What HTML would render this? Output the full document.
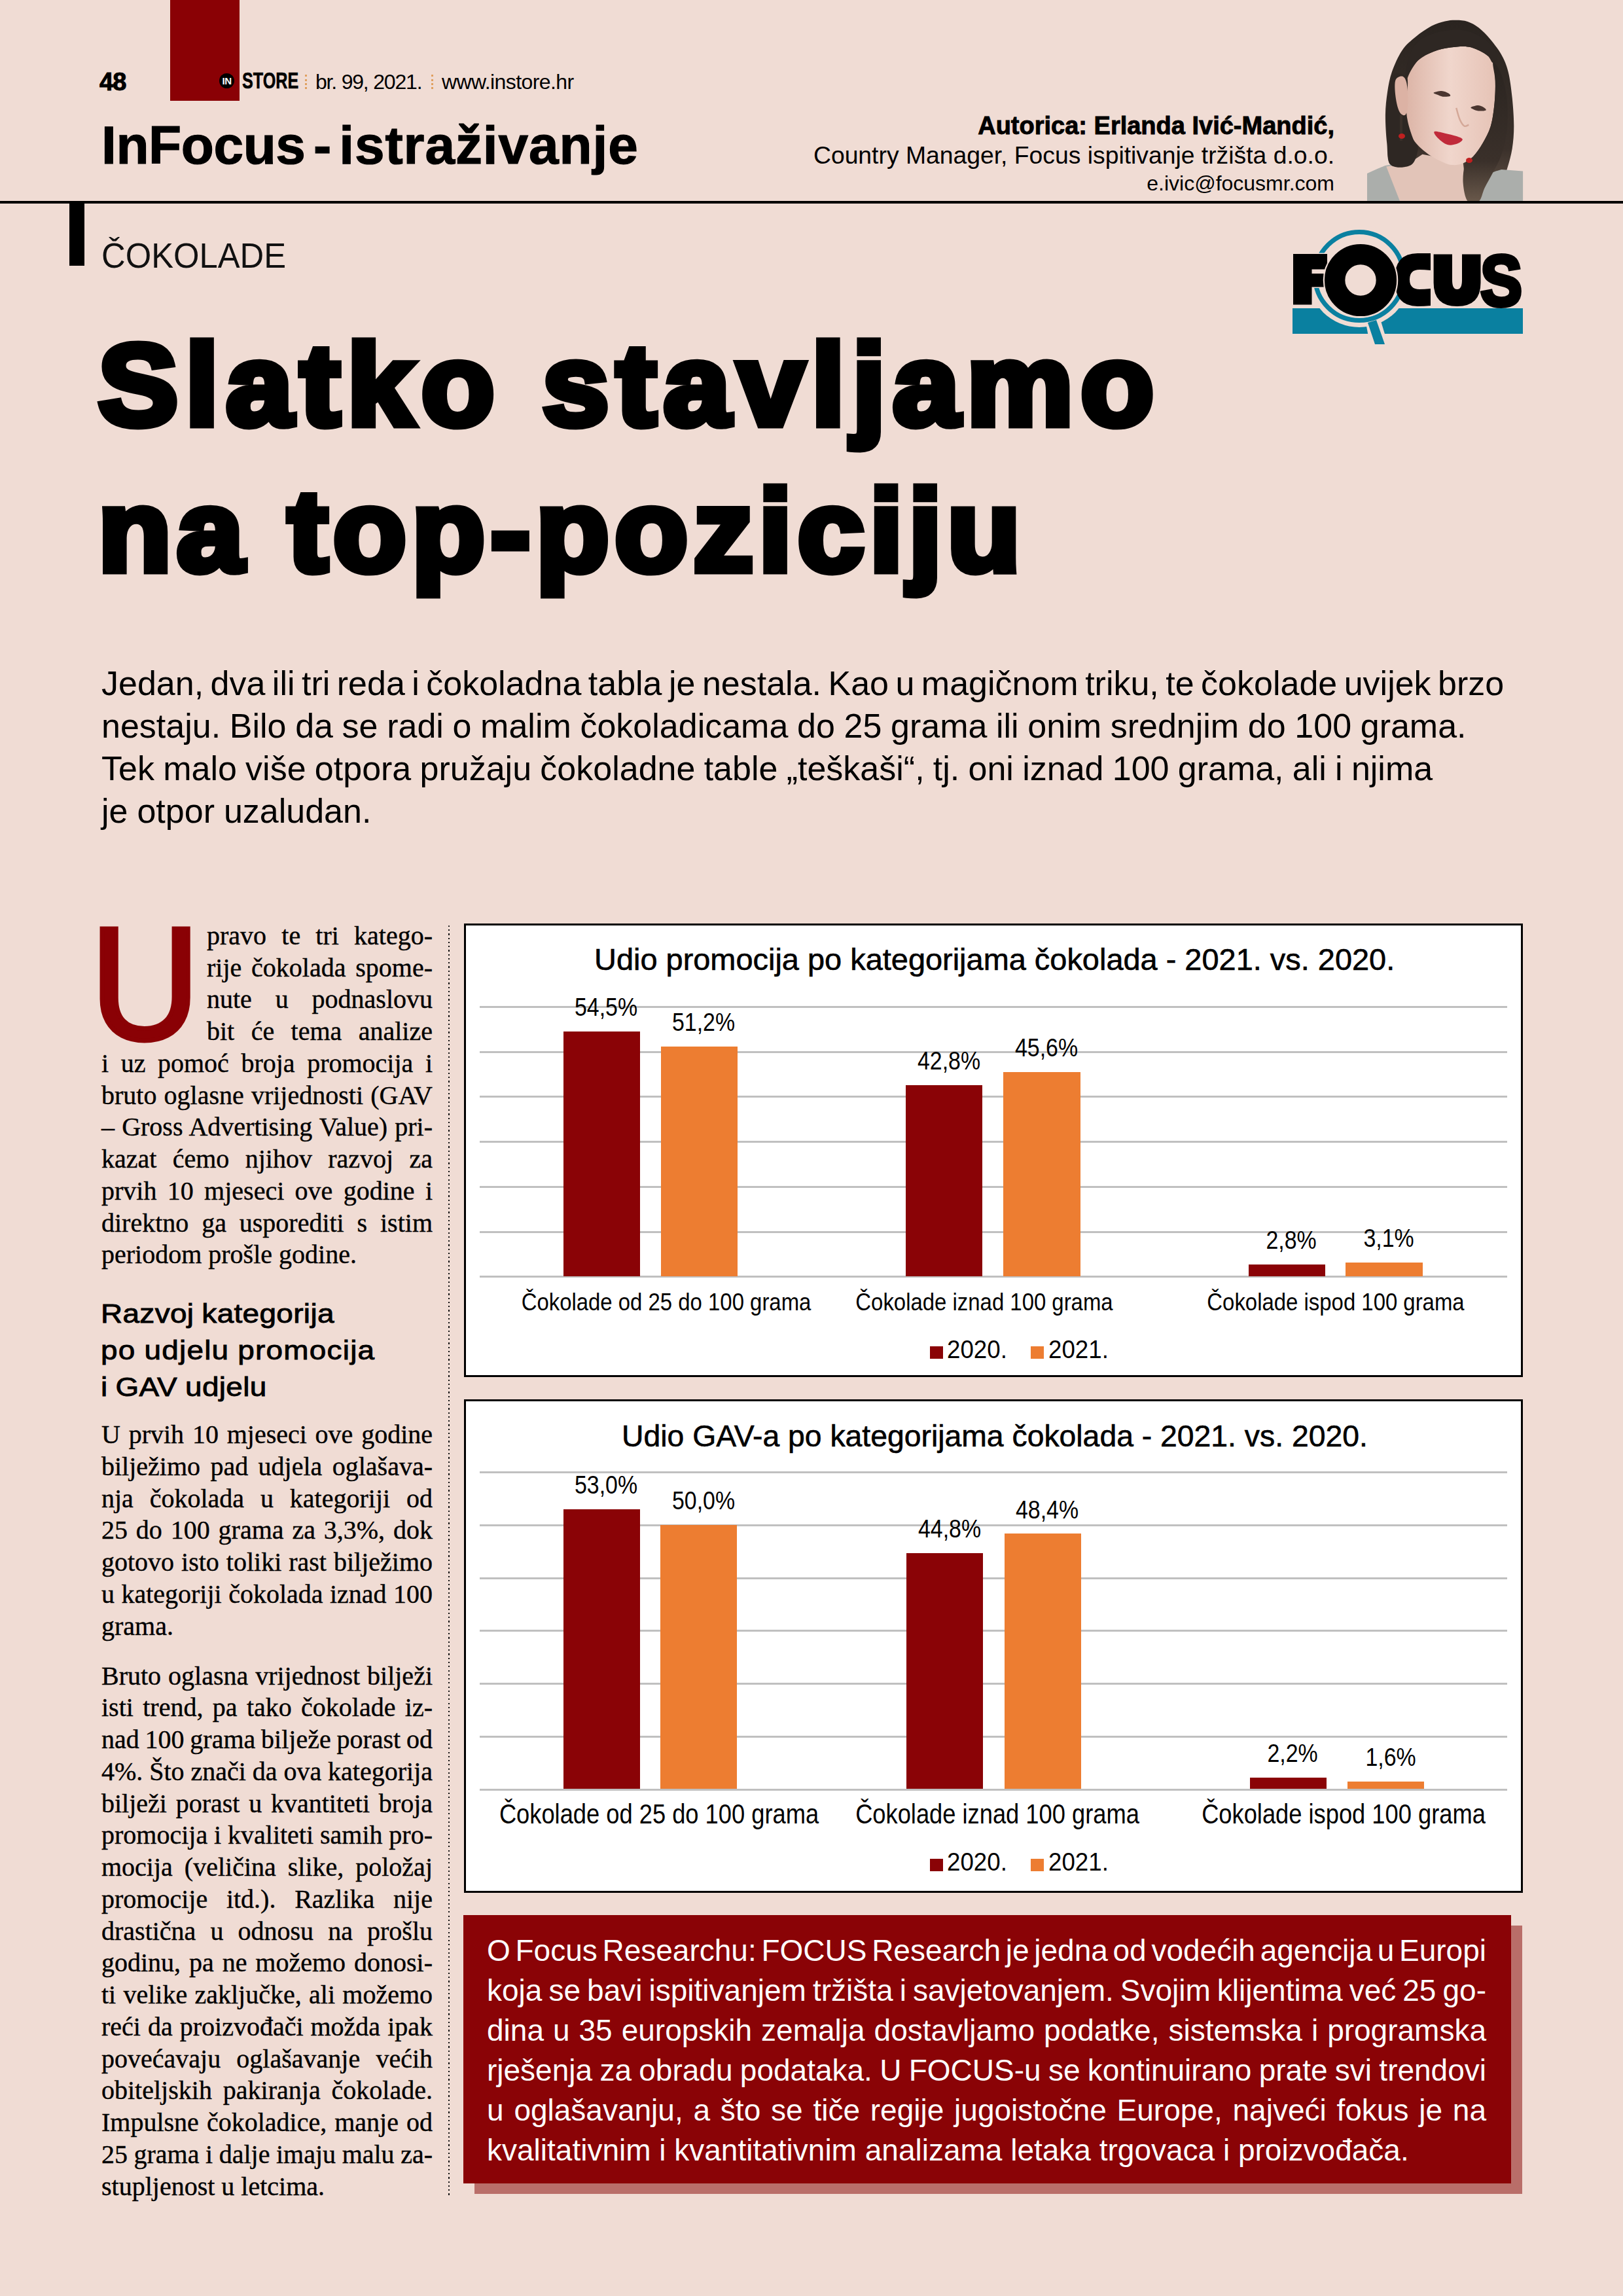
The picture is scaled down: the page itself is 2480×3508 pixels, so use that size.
<!DOCTYPE html>
<html lang="hr">
<head>
<meta charset="utf-8">
<title>InFocus - istraživanje</title>
<style>
html,body{margin:0;padding:0;}
body{width:2480px;height:3508px;position:relative;overflow:hidden;background:#f0dcd4;font-family:"Liberation Sans",sans-serif;color:#000;}
.a{position:absolute;white-space:nowrap;line-height:1;}
.sx{transform-origin:0 0;}
/* header */
#redtab{left:260px;top:0;width:106px;height:154px;background:#8a0105;}
#pgno{left:152px;top:106px;font-size:38px;font-weight:bold;letter-spacing:-1px;-webkit-text-stroke:1px #000;}
#incirc{left:335px;top:112px;width:23px;height:23px;border-radius:50%;background:#000;color:#fff;font-size:15px;font-weight:bold;text-align:center;line-height:24px;letter-spacing:-0.5px;}
#store{left:370px;top:105px;font-size:35px;font-weight:bold;transform:scaleX(0.72);-webkit-text-stroke:0.6px #000;}
.vdots{width:0;border-left:3px dotted #e0a060;}
#br{left:482px;top:109px;font-size:32px;letter-spacing:-1.2px;}
#www{left:675px;top:109px;font-size:32px;letter-spacing:-0.6px;}
#infocus{left:155px;top:181px;font-size:82px;font-weight:bold;letter-spacing:-0.4px;word-spacing:-10px;-webkit-text-stroke:1.2px #000;}
#rule{left:0;top:307px;width:2480px;height:4px;background:#000;}
#vbar{left:106px;top:307px;width:23px;height:99px;background:#000;}
#cok{left:155px;top:363px;font-size:54px;transform:scaleX(0.94);color:#111;}
#aut1{right:441px;top:173px;font-size:38px;font-weight:bold;-webkit-text-stroke:0.9px #000;}
#aut2{right:441px;top:219px;font-size:37.3px;}
#aut3{right:441px;top:264px;font-size:32px;}
/* title */
.title{left:150px;font-size:176px;font-weight:bold;-webkit-text-stroke:11px #000;}
#t1{top:500px;letter-spacing:10.8px;transform:scaleX(1.04);}
#t2{top:723px;letter-spacing:8.1px;transform:scaleX(1.04);}
/* intro */
.intro{left:155px;top:1012px;font-size:52px;line-height:65px;word-spacing:-4px;}
/* left column */
.col{left:155px;width:506px;font-family:"Liberation Serif",serif;font-size:40px;line-height:48.75px;white-space:nowrap;-webkit-text-stroke:0.4px #000;}
.col div{text-align:justify;text-align-last:justify;word-spacing:-3px;}
.col div.l{text-align-last:left;word-spacing:0;}
#dropU{left:137.6px;top:1381px;font-size:245px;color:#8a0105;-webkit-text-stroke:7px #8a0105;font-family:"Liberation Sans",sans-serif;transform:scaleX(0.945);}
#h2{left:154px;top:1980px;font-size:41px;line-height:55.8px;letter-spacing:0.3px;word-spacing:-1px;-webkit-text-stroke:0.9px #000;transform:scaleX(1.12);}
#dotv{left:684.8px;top:1414px;width:2.4px;height:1942px;background:repeating-linear-gradient(to bottom,#111 0,#111 2.2px,transparent 2.2px,transparent 6.25px);border-radius:1px;}
/* charts */
.box{background:#fff;border:3px solid #000;box-sizing:border-box;}
.grid{height:3px;background:#c0c0c0;left:733px;width:1570px;}
.bar{background:#8a0306;}
.bar.o{background:#ed7d31;}
.ctitle{font-size:46px;-webkit-text-stroke:0.6px #000;}
.val{font-size:38.5px;transform:scaleX(0.88);transform-origin:50% 0;text-align:center;width:200px;}
.cat{font-size:37.4px;transform:scaleX(0.88);transform-origin:50% 0;text-align:center;width:700px;}
.cat2{font-size:42px;transform:scaleX(0.864);transform-origin:50% 0;text-align:center;width:700px;}
.leg{font-size:39.7px;transform:scaleX(0.925);}
/* info box */
#shadow{left:725px;top:2942px;width:1601px;height:410px;background:#b96e69;}
#info{left:708px;top:2925.5px;width:1601px;height:410.5px;background:#8a0306;}
.itext{left:744px;top:2950px;width:1527px;font-size:46px;line-height:61px;color:#ffffff;}
.itext div{text-align:justify;text-align-last:justify;}
.itext div.l{text-align-last:left;}
</style>
</head>
<body>
<div class="a" id="redtab"></div>
<div class="a" id="pgno">48</div>
<div class="a" id="incirc">IN</div>
<div class="a sx" id="store">STORE</div>
<div class="a vdots" style="left:466px;top:114px;height:22px;"></div>
<div class="a" id="br">br. 99, 2021.</div>
<div class="a vdots" style="left:659px;top:114px;height:22px;"></div>
<div class="a" id="www">www.instore.hr</div>
<div class="a" id="infocus">InFocus - <span style="letter-spacing:0.9px">istraživanje</span></div>
<div class="a" id="aut1">Autorica: Erlanda Ivić-Mandić,</div>
<div class="a" id="aut2">Country Manager, Focus ispitivanje tržišta d.o.o.</div>
<div class="a" id="aut3">e.ivic@focusmr.com</div>
<svg class="a" style="left:2080px;top:20px" width="260" height="290" viewBox="2080 20 260 290">
  <defs><linearGradient id="hg" x1="0" y1="0" x2="0" y2="1"><stop offset="0" stop-color="#2a2420"/><stop offset="0.7" stop-color="#3a302a"/><stop offset="1" stop-color="#6b5a4c"/></linearGradient>
  <linearGradient id="fg" x1="0" y1="0" x2="1" y2="0"><stop offset="0" stop-color="#dcb4a6"/><stop offset="0.5" stop-color="#f0d6cc"/><stop offset="1" stop-color="#e6c3b6"/></linearGradient></defs>
  <path d="M2187.3 39.8 C2194.8 35.9 2201.7 33.9 2208.0 32.4 C2214.4 30.9 2219.5 30.6 2225.3 30.7 C2231.0 30.8 2236.8 31.0 2242.5 32.9 C2248.3 34.9 2254.0 38.0 2259.8 42.4 C2265.5 46.9 2271.3 52.8 2277.0 59.7 C2282.8 66.6 2289.7 75.5 2294.3 83.8 C2298.9 92.2 2301.9 98.8 2304.6 109.7 C2307.4 120.6 2309.2 135.6 2310.7 149.4 C2312.1 163.2 2313.3 179.6 2313.3 192.5 C2313.3 205.5 2312.4 216.1 2310.7 227.0 C2309.0 238.0 2305.7 248.6 2302.9 258.1 C2300.2 267.6 2297.2 275.8 2294.3 284.0 C2291.4 292.2 2294.3 303.4 2285.7 307.3 C2277.0 311.1 2252.6 313.4 2242.5 307.3 C2232.5 301.1 2239.7 279.5 2225.3 270.2 C2210.9 260.8 2172.9 254.2 2156.3 251.2 C2139.6 248.2 2131.4 257.5 2125.2 252.1 C2119.0 246.6 2120.6 231.2 2119.2 218.4 C2117.8 205.6 2116.8 188.2 2116.9 175.3 C2117.1 162.3 2118.4 151.7 2120.0 140.8 C2121.7 129.8 2123.2 120.4 2126.9 109.7 C2130.7 99.1 2136.4 85.9 2142.5 76.9 C2148.5 68.0 2155.7 62.4 2163.2 56.2 C2170.6 50.0 2179.8 43.8 2187.3 39.8 Z" fill="url(#hg)"/>
  <path d="M2089.0 265.0 L2104.5 258.1 L2116.6 252.9 L2126.9 251.2 L2152.8 252.1 L2225.3 265.0 L2242.5 278.8 L2285.7 261.5 L2294.3 259.0 L2327.1 261.5 L2327.1 307.3 L2089.0 307.3 Z" fill="#abaeab"/>
  <path d="M2118.3 254.6 L2152.8 249.5 L2173.5 235.7 L2235.6 247.7 L2242.5 307.3 L2139.0 307.3 Z" fill="#e2c4b8"/>
  <path d="M2149.4 123.5 C2152.5 112.6 2159.7 99.9 2166.6 92.5 C2173.5 85.0 2182.4 82.0 2190.8 78.7 C2199.1 75.4 2208.0 73.8 2216.7 72.6 C2225.3 71.4 2235.3 70.7 2242.5 71.4 C2249.7 72.1 2254.6 74.6 2259.8 76.9 C2265.0 79.3 2270.0 82.4 2273.6 85.6 C2277.2 88.7 2279.5 89.6 2281.4 95.9 C2283.2 102.2 2284.4 113.2 2284.8 123.5 C2285.2 133.9 2284.7 146.5 2283.6 158.0 C2282.4 169.5 2280.9 182.5 2277.9 192.5 C2274.9 202.6 2270.3 210.6 2265.8 218.4 C2261.4 226.2 2256.2 233.9 2251.2 239.1 C2246.1 244.3 2240.8 247.3 2235.6 249.5 C2230.5 251.6 2225.3 252.3 2220.1 252.1 C2214.9 251.8 2211.2 250.8 2204.6 247.7 C2198.0 244.7 2187.9 239.7 2180.4 233.9 C2172.9 228.2 2164.7 221.3 2159.7 213.2 C2154.7 205.2 2152.2 194.8 2150.2 185.6 C2148.2 176.4 2147.8 168.4 2147.6 158.0 C2147.5 147.7 2146.2 134.4 2149.4 123.5 Z" fill="url(#fg)"/>
  <path d="M2147.6 116.6 C2151.1 118.9 2150.9 120.1 2151.1 127.0 C2151.2 133.9 2148.5 148.2 2148.5 158.0 C2148.5 167.8 2149.2 176.4 2151.1 185.6 C2153.0 194.8 2157.1 206.3 2159.7 213.2 C2162.3 220.1 2167.2 220.6 2166.6 227.0 C2166.0 233.5 2163.2 247.9 2156.3 252.1 C2149.4 256.2 2131.2 257.7 2125.2 252.1 C2119.2 246.4 2121.2 231.2 2120.0 218.4 C2118.9 205.6 2118.0 188.2 2118.3 175.3 C2118.6 162.3 2119.7 151.1 2121.8 140.8 C2123.8 130.4 2126.1 117.2 2130.4 113.2 C2134.7 109.1 2144.2 114.3 2147.6 116.6 Z" fill="#2e2723"/>
  <path d="M2132.1 123.5 C2133.7 117.8 2139.6 116.0 2142.5 116.6 C2145.3 117.2 2147.9 120.1 2149.4 127.0 C2150.8 133.9 2151.4 150.0 2151.1 158.0 C2150.8 166.1 2149.7 173.0 2147.6 175.3 C2145.6 177.6 2141.5 175.9 2139.0 171.8 C2136.6 167.8 2134.1 159.2 2133.0 151.1 C2131.8 143.1 2130.5 129.3 2132.1 123.5 Z" fill="#dcb2a4"/>
  <path d="M2281.4 95.9 C2282.6 93.6 2289.3 102.2 2292.6 109.7 C2295.9 117.2 2299.3 129.8 2301.2 140.8 C2303.1 151.7 2303.8 163.8 2303.8 175.3 C2303.8 186.8 2303.1 198.9 2301.2 209.8 C2299.3 220.7 2296.0 231.6 2292.6 240.8 C2289.1 250.0 2284.5 257.2 2280.5 265.0 C2276.5 272.8 2271.9 280.4 2268.4 287.4 C2265.0 294.5 2264.1 304.0 2259.8 307.3 C2255.5 310.6 2246.6 312.0 2242.5 307.3 C2238.5 302.5 2236.2 288.4 2235.6 278.8 C2235.1 269.2 2236.5 256.1 2239.1 249.5 C2241.7 242.9 2246.7 244.3 2251.2 239.1 C2255.6 233.9 2261.4 226.2 2265.8 218.4 C2270.3 210.6 2274.9 202.6 2277.9 192.5 C2280.9 182.5 2282.4 169.5 2283.6 158.0 C2284.7 146.5 2285.2 133.9 2284.8 123.5 C2284.4 113.2 2280.1 98.2 2281.4 95.9 Z" fill="url(#hg)"/>
  <path d="M2147.6 116.6 C2148.8 120.1 2159.4 98.8 2166.6 92.5 C2173.8 86.1 2182.4 82.0 2190.8 78.7 C2199.1 75.4 2208.0 73.8 2216.7 72.6 C2225.3 71.4 2235.3 70.7 2242.5 71.4 C2249.7 72.1 2254.6 74.6 2259.8 76.9 C2265.0 79.3 2270.0 82.4 2273.6 85.6 C2277.2 88.7 2279.1 96.5 2281.4 95.9 C2283.7 95.3 2289.5 88.2 2287.4 82.1 C2285.2 76.1 2277.3 65.7 2268.4 59.7 C2259.5 53.6 2246.8 47.3 2233.9 45.9 C2221.0 44.4 2203.1 46.7 2190.8 51.1 C2178.4 55.4 2166.9 60.8 2159.7 71.8 C2152.5 82.7 2146.5 113.2 2147.6 116.6 Z" fill="#2e2723"/>
  <path d="M2191.6 201.2 C2193.4 199.9 2202.4 202.6 2208.0 203.7 C2213.6 204.9 2220.8 206.5 2225.3 208.1 C2229.7 209.6 2234.8 211.2 2234.8 213.2 C2234.8 215.2 2229.2 218.8 2225.3 220.1 C2221.4 221.4 2216.1 222.4 2211.5 221.0 C2206.9 219.6 2201.0 214.8 2197.7 211.5 C2194.4 208.2 2189.9 202.5 2191.6 201.2 Z" fill="#c02a3a"/>
  <path d="M2190.8 141.6 C2191.9 140.7 2199.1 138.9 2202.9 139.0 C2206.6 139.2 2211.0 141.2 2213.2 142.5 C2215.4 143.8 2217.2 145.9 2215.8 146.8 C2214.4 147.7 2207.9 148.0 2204.6 147.7 C2201.3 147.3 2198.2 145.6 2195.9 144.6 C2193.6 143.6 2189.6 142.6 2190.8 141.6 Z" fill="#4a3630"/>
  <path d="M2247.7 164.1 C2249.0 163.1 2255.5 161.0 2258.9 161.1 C2262.4 161.3 2266.5 163.7 2268.4 164.9 C2270.3 166.2 2271.7 168.0 2270.1 168.7 C2268.6 169.5 2262.1 169.7 2258.9 169.4 C2255.8 169.1 2253.0 167.9 2251.2 167.0 C2249.3 166.1 2246.4 165.0 2247.7 164.1 Z" fill="#4a3630"/>
  <path d="M2225.3 164.9 C2226.1 167.8 2228.4 177.6 2230.5 182.2 C2232.5 186.8 2235.1 191.1 2237.4 192.5 C2239.7 194.0 2243.1 191.1 2244.3 190.8 " fill="none" stroke="#d4a898" stroke-width="2.5"/>
  <rect x="2139" y="175" width="4" height="40" fill="#3a302a"/>
  <ellipse cx="2142" cy="208" rx="5" ry="4" fill="#c02020"/>
  <ellipse cx="2245" cy="245" rx="5" ry="4" fill="#c02020"/>
</svg>
<div class="a" id="rule"></div>
<div class="a" id="vbar"></div>
<div class="a sx" id="cok">ČOKOLADE</div>
<svg class="a" style="left:1960px;top:330px" width="380" height="210" viewBox="1960 330 380 210">
  <rect x="1975" y="471" width="352" height="39" fill="#0a80a0"/>
  <circle cx="2077" cy="422" r="78" fill="#f0dcd4"/>
  <polygon points="2086,488 2108,484 2122,530 2094,530" fill="#f0dcd4"/>
  <circle cx="2077" cy="422" r="67.5" fill="none" stroke="#0a80a0" stroke-width="7"/>
  <polygon points="2090,493 2103,489 2116,526 2101,526" fill="#0a80a0"/>
  <rect x="2003" y="410" width="26" height="9" fill="#f0dcd4"/>
  <path d="M1976 388 L2028 388 L2028 411.5 L2004.5 411.5 L2004.5 418 L2023 418 L2023 438.5 L2004.5 438.5 L2004.5 465.5 L1976 465.5 Z" fill="#000" stroke="#f0dcd4" stroke-width="3" paint-order="stroke"/>
  <path d="M2186 387 V413 Q2176 412 2169 412 Q2154 412 2154 427 Q2154 442 2169 442 Q2176 442 2186 441 V467 Q2176 468 2166 468 Q2131 468 2131 427 Q2131 387 2166 387 Q2176 387 2186 387 Z" fill="#000"/>
  <path d="M2190.6 388.5 H2219 V428 Q2219 442 2226.5 442 Q2234 442 2234 428 V388.5 H2262.5 V432 Q2262.5 468 2226.5 468 Q2190.6 468 2190.6 432 Z" fill="#000"/>
  <text x="2262" y="467" font-family="Liberation Sans" font-weight="bold" font-size="110" stroke="#000" stroke-width="6" textLength="64" lengthAdjust="spacingAndGlyphs">S</text>
  <circle cx="2079" cy="428" r="40" fill="none" stroke="#f0dcd4" stroke-width="34.5"/>
  <circle cx="2079" cy="428" r="39.4" fill="none" stroke="#000" stroke-width="31.4"/>
</svg>

<div class="a title sx" id="t1">Slatko stavljamo</div>
<div class="a title sx" id="t2">na top-poziciju</div>
<div class="a intro"><div>Jedan, dva ili tri reda i čokoladna tabla je nestala. Kao u magičnom triku, te čokolade uvijek brzo</div><div style="word-spacing:-0.8px">nestaju. Bilo da se radi o malim čokoladicama do 25 grama ili onim srednjim do 100 grama.</div><div style="word-spacing:-1.2px">Tek malo više otpora pružaju čokoladne table „teškaši“, tj. oni iznad 100 grama, ali i njima</div><div style="word-spacing:-0.5px">je otpor uzaludan.</div></div>

<div class="a sx" id="dropU">U</div>
<div class="a col" style="top:1405.9px"><div style="margin-left:161px">pravo te tri katego-</div><div style="margin-left:161px">rije čokolada spome-</div><div style="margin-left:161px">nute u podnaslovu</div><div style="margin-left:161px">bit će tema analize</div><div>i uz pomoć broja promocija i</div><div>bruto oglasne vrijednosti (GAV</div><div>– Gross Advertising Value) pri-</div><div>kazat ćemo njihov razvoj za</div><div>prvih 10 mjeseci ove godine i</div><div>direktno ga usporediti s istim</div><div class="l">periodom prošle godine.</div></div>
<div class="a sx" id="h2">Razvoj kategorija<br><span style="letter-spacing:1.1px">po udjelu promocija</span><br>i GAV udjelu</div>
<div class="a col" style="top:2168.1px"><div>U prvih 10 mjeseci ove godine</div><div>bilježimo pad udjela oglašava-</div><div>nja čokolada u kategoriji od</div><div>25 do 100 grama za 3,3%, dok</div><div>gotovo isto toliki rast bilježimo</div><div>u kategoriji čokolada iznad 100</div><div class="l">grama.</div></div>
<div class="a col" style="top:2536.5px"><div>Bruto oglasna vrijednost bilježi</div><div>isti trend, pa tako čokolade iz-</div><div>nad 100 grama bilježe porast od</div><div>4%. Što znači da ova kategorija</div><div>bilježi porast u kvantiteti broja</div><div>promocija i kvaliteti samih pro-</div><div>mocija (veličina slike, položaj</div><div>promocije itd.). Razlika nije</div><div>drastična u odnosu na prošlu</div><div>godinu, pa ne možemo donosi-</div><div>ti velike zaključke, ali možemo</div><div>reći da proizvođači možda ipak</div><div>povećavaju oglašavanje većih</div><div>obiteljskih pakiranja čokolade.</div><div>Impulsne čokoladice, manje od</div><div>25 grama i dalje imaju malu za-</div><div class="l">stupljenost u letcima.</div></div>
<div class="a" id="dotv"></div>

<div class="a box" style="left:709px;top:1411px;width:1618px;height:692.7px"></div>
<div class="a ctitle sx" style="transform:scaleX(1.02);left:908.0px;top:1443.1px">Udio promocija po kategorijama čokolada - 2021. vs. 2020.</div>
<div class="a grid" style="top:1536.9px"></div>
<div class="a grid" style="top:1605.7px"></div>
<div class="a grid" style="top:1674.4px"></div>
<div class="a grid" style="top:1743.1px"></div>
<div class="a grid" style="top:1811.8px"></div>
<div class="a grid" style="top:1880.5px"></div>
<div class="a grid" style="top:1949.2px"></div>
<div class="a bar " style="left:860.5px;top:1575.8px;width:117.5px;height:373.9px"></div>
<div class="a val" style="left:826.2px;top:1520.2px">54,5%</div>
<div class="a bar o" style="left:1009.5px;top:1599.0px;width:117.5px;height:350.7px"></div>
<div class="a val" style="left:975.2px;top:1543.4px">51,2%</div>
<div class="a bar " style="left:1384.0px;top:1657.7px;width:117.0px;height:292.0px"></div>
<div class="a val" style="left:1349.5px;top:1602.1px">42,8%</div>
<div class="a bar o" style="left:1532.7px;top:1637.5px;width:118.3px;height:312.2px"></div>
<div class="a val" style="left:1498.8px;top:1581.9px">45,6%</div>
<div class="a bar " style="left:1907.6px;top:1931.5px;width:117.2px;height:18.2px"></div>
<div class="a val" style="left:1873.2px;top:1875.9px">2,8%</div>
<div class="a bar o" style="left:2056.0px;top:1928.5px;width:118.0px;height:21.2px"></div>
<div class="a val" style="left:2022.0px;top:1872.9px">3,1%</div>
<div class="a cat" style="left:667.8px;top:1971.0px">Čokolade od 25 do 100 grama</div>
<div class="a cat" style="left:1154.0px;top:1971.0px">Čokolade iznad 100 grama</div>
<div class="a cat" style="left:1690.5px;top:1971.0px">Čokolade ispod 100 grama</div>
<div class="a bar" style="left:1421px;top:2056.8px;width:20px;height:19.5px"></div>
<div class="a leg sx" style="left:1447px;top:2042.4px">2020.</div>
<div class="a bar o" style="left:1575px;top:2056.8px;width:20px;height:19.5px"></div>
<div class="a leg sx" style="left:1602px;top:2042.4px">2021.</div>

<div class="a box" style="left:709px;top:2137.8px;width:1618px;height:754.7px"></div>
<div class="a ctitle sx" style="transform:scaleX(1.007);left:949.6px;top:2171.1px">Udio GAV-a po kategorijama čokolada - 2021. vs. 2020.</div>
<div class="a grid" style="top:2247.8px"></div>
<div class="a grid" style="top:2328.7px"></div>
<div class="a grid" style="top:2409.5px"></div>
<div class="a grid" style="top:2490.4px"></div>
<div class="a grid" style="top:2571.2px"></div>
<div class="a grid" style="top:2652.0px"></div>
<div class="a grid" style="top:2732.9px"></div>
<div class="a bar " style="left:860.7px;top:2306.0px;width:117.2px;height:427.4px"></div>
<div class="a val" style="left:826.3px;top:2250.4px">53,0%</div>
<div class="a bar o" style="left:1009.0px;top:2330.0px;width:117.4px;height:403.4px"></div>
<div class="a val" style="left:974.7px;top:2274.4px">50,0%</div>
<div class="a bar " style="left:1385.0px;top:2372.6px;width:117.0px;height:360.8px"></div>
<div class="a val" style="left:1350.5px;top:2317.0px">44,8%</div>
<div class="a bar o" style="left:1534.7px;top:2343.3px;width:117.3px;height:390.1px"></div>
<div class="a val" style="left:1500.3px;top:2287.7px">48,4%</div>
<div class="a bar " style="left:1909.6px;top:2716.0px;width:117.2px;height:17.4px"></div>
<div class="a val" style="left:1875.2px;top:2660.4px">2,2%</div>
<div class="a bar o" style="left:2059.0px;top:2721.5px;width:117.0px;height:11.9px"></div>
<div class="a val" style="left:2024.5px;top:2665.9px">1,6%</div>
<div class="a cat2" style="left:657.0px;top:2751.4px">Čokolade od 25 do 100 grama</div>
<div class="a cat2" style="left:1173.5px;top:2751.4px">Čokolade iznad 100 grama</div>
<div class="a cat2" style="left:1702.5px;top:2751.4px">Čokolade ispod 100 grama</div>
<div class="a bar" style="left:1421px;top:2839.5px;width:20px;height:19.5px"></div>
<div class="a leg sx" style="left:1447px;top:2825.1px">2020.</div>
<div class="a bar o" style="left:1575px;top:2839.5px;width:20px;height:19.5px"></div>
<div class="a leg sx" style="left:1602px;top:2825.1px">2021.</div>

<div class="a" id="shadow"></div>
<div class="a" id="info"></div>
<div class="a itext">
<div style="word-spacing:-6px">O Focus Researchu: FOCUS Research je jedna od vodećih agencija u Europi</div>
<div style="word-spacing:-3px">koja se bavi ispitivanjem tržišta i savjetovanjem. Svojim klijentima već 25 go-</div>
<div>dina u 35 europskih zemalja dostavljamo podatke, sistemska i programska</div>
<div style="word-spacing:-2px">rješenja za obradu podataka. U FOCUS-u se kontinuirano prate svi trendovi</div>
<div>u oglašavanju, a što se tiče regije jugoistočne Europe, najveći fokus je na</div>
<div class="l">kvalitativnim i kvantitativnim analizama letaka trgovaca i proizvođača.</div>
</div>

</body>
</html>
